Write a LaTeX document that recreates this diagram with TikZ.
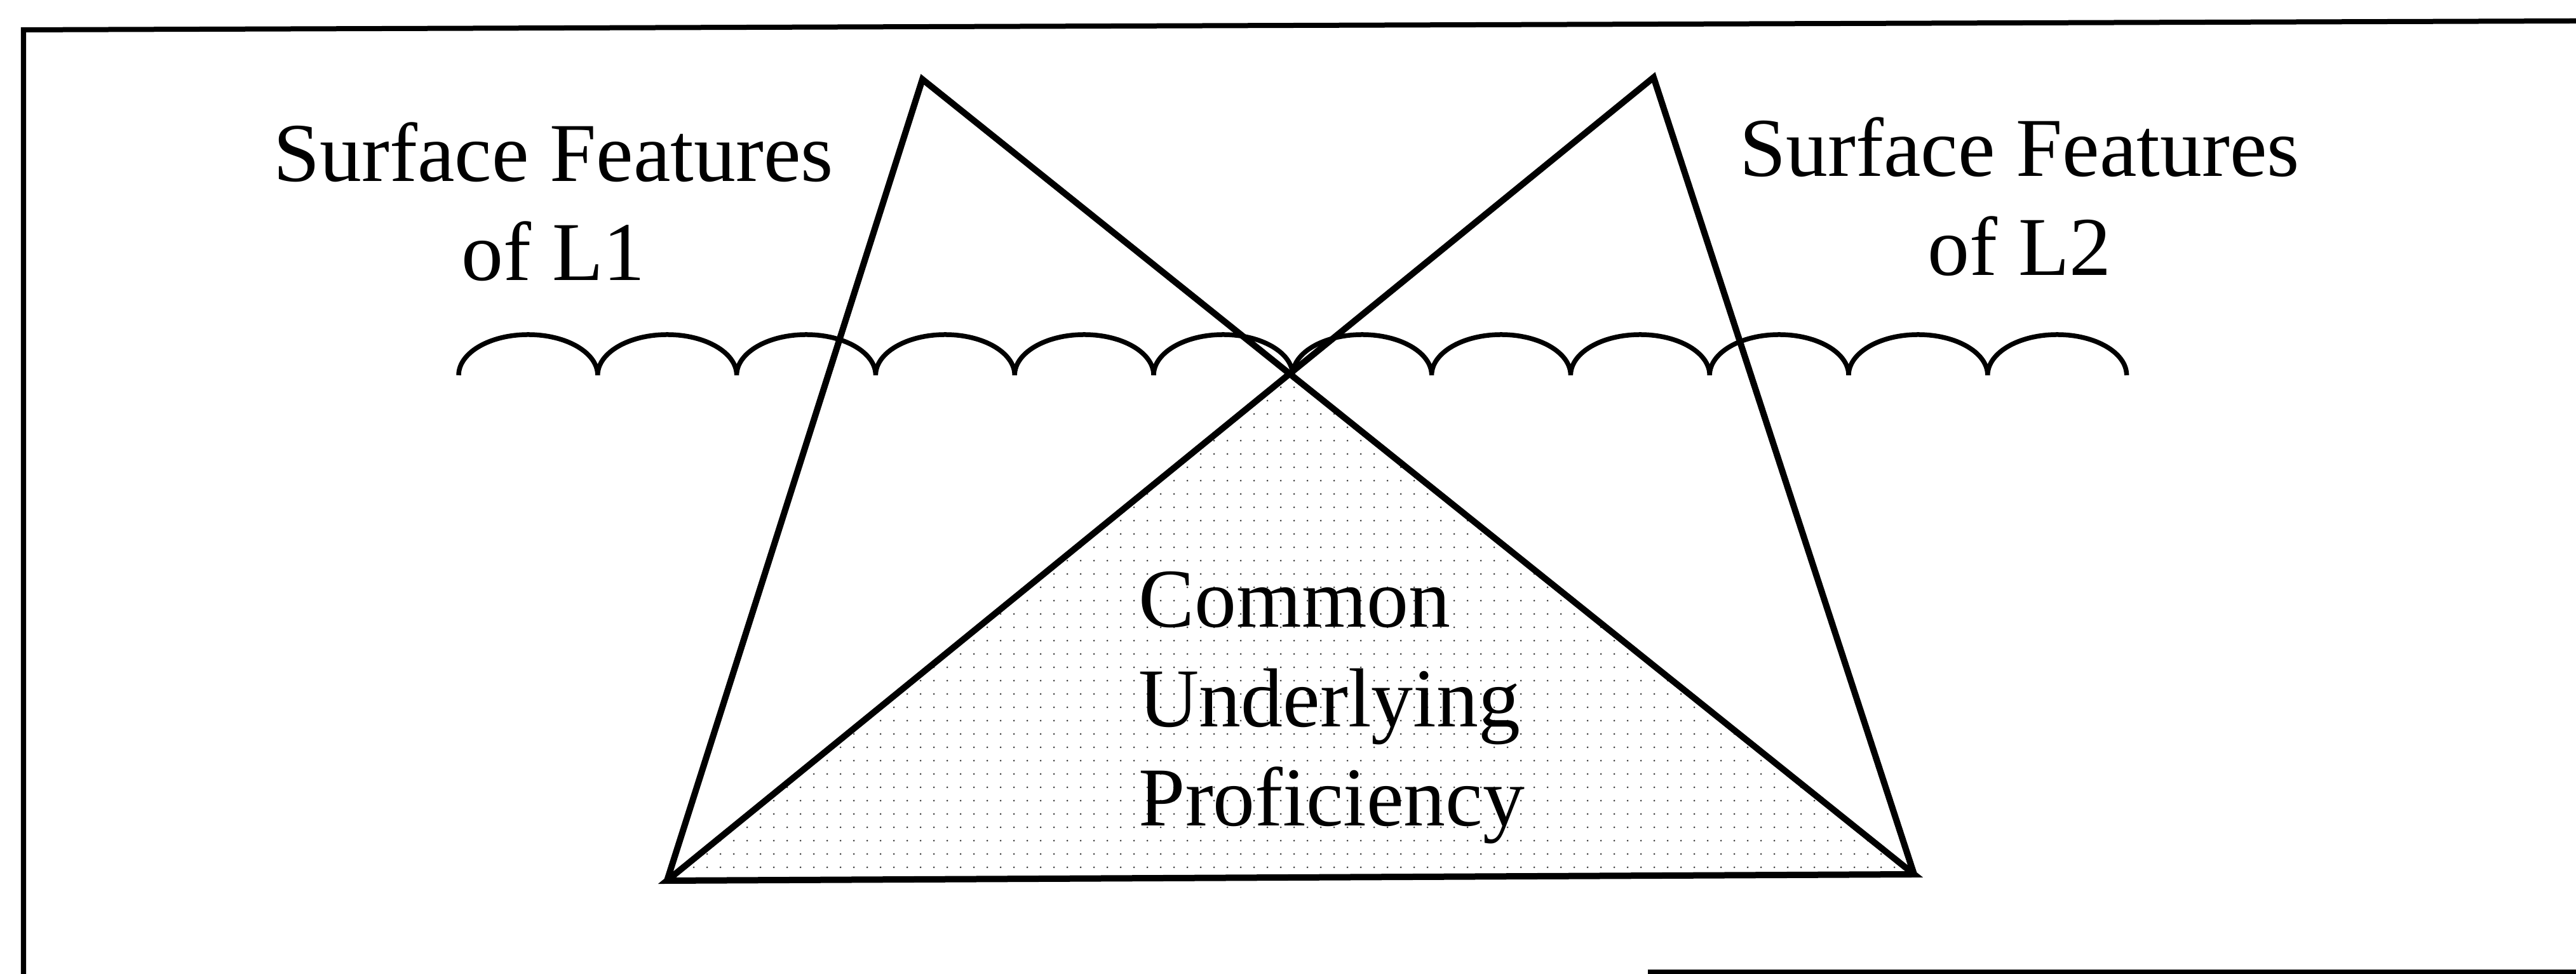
\documentclass[tikz,border=0pt]{standalone}
\usepackage{fontspec}
\setmainfont{Liberation Serif}
\usetikzlibrary{patterns.meta}

\begin{document}
\begin{tikzpicture}[
  triline/.style={line width=0.1cm,line join=miter},
  wave/.style={line width=0.075cm},
  frameline/.style={line width=0.08cm},
  heading/.style={inner sep=0pt,align=center,font=\fontsize{37.5}{44.5}\selectfont},
  core/.style={pattern={Dots[distance=0.21cm,radius=0.015cm]},pattern color=black!75}]
  \useasboundingbox (0,0) rectangle (40.55,15.34);
  % corners of the two triangles
  \coordinate (apexL) at (14.52,14.09);
  \coordinate (apexR) at (26.03,14.12);
  \coordinate (baseL) at (10.50,1.47);
  \coordinate (baseR) at (30.13,1.57);
  \coordinate (cross) at (intersection of apexL--baseR and apexR--baseL);
  % frame ends
  \coordinate (frameBL) at (0.37,0);
  \coordinate (frameTL) at (0.37,14.87);
  \coordinate (frameTR) at (40.55,15.01);
  \coordinate (floorL) at (25.94,0.03);
  \coordinate (floorR) at (40.55,0.03);
  \coordinate (waveL) at (7.22,9.43);

  \fill[core] (cross) -- (baseL) -- (baseR) -- cycle;
  \draw[frameline] (frameBL) -- (frameTL) -- (frameTR);
  \draw[frameline] (floorL) -- (floorR);
  \draw[triline] (baseL) -- (apexL) -- (baseR) -- (baseL) -- (apexR) -- (baseR);
  % surface line
  \draw[wave] (waveL) foreach \i in {1,...,12} {arc[start angle=180,end angle=0,x radius=1.094,y radius=0.64]};

  \node[heading] (surfL) at (8.71,12.16) {Surface Features\\of L1};
  \node[heading] (surfR) at (31.79,12.24) {Surface Features\\of L2};
  \node[heading,align=left,anchor=west] (cup) at (17.92,4.19) {Common\\Underlying\\Proficiency};
\end{tikzpicture}
\end{document}
